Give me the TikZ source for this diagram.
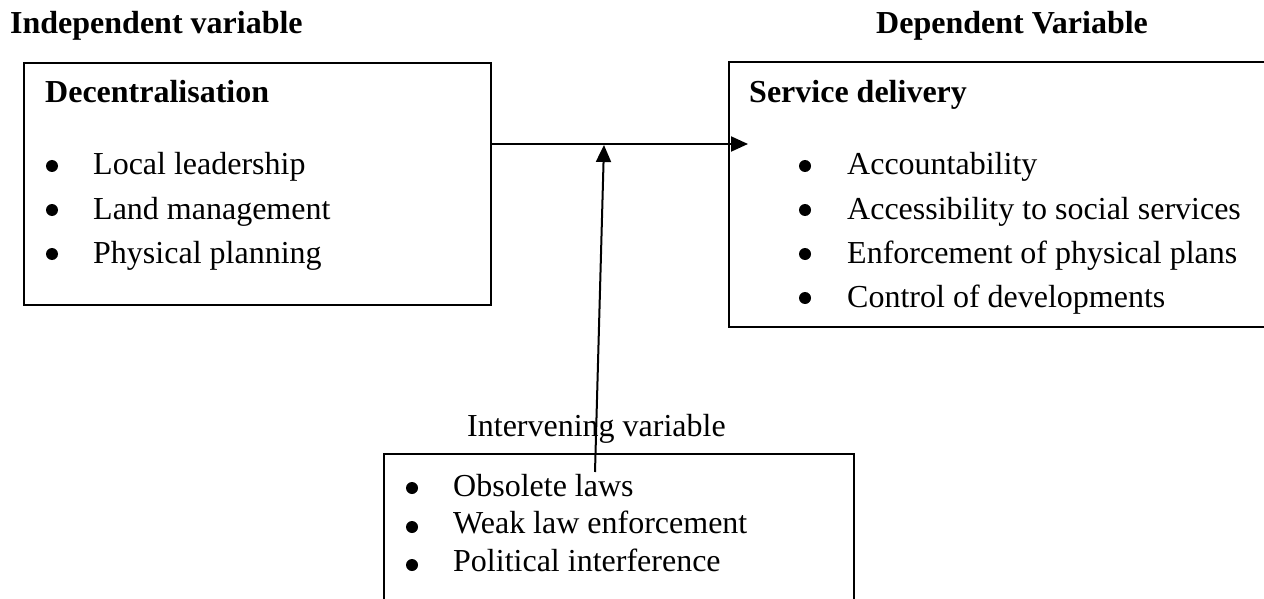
\documentclass[tikz,border=0pt]{standalone}
\usepackage{fontspec}
\setmainfont{Liberation Serif}
\usetikzlibrary{arrows.meta}
\begin{document}
\begin{tikzpicture}[x=1pt,y=-1pt,
  txt/.style={anchor=base west,inner sep=0pt,font=\fontsize{32}{38}\selectfont},
  head/.style={txt,font=\fontsize{32}{38}\selectfont\bfseries},
  box/.style={draw,line width=1.8pt,inner sep=0pt},
  bul/.style={circle,fill=black,inner sep=0pt,minimum size=12pt},
  conn/.style={line width=2pt,-{Triangle[length=17pt,width=15pt]}}]
\useasboundingbox (0,0) rectangle (1264,599);
\clip (0,0) rectangle (1264,599);
% boxes
\node[box,minimum width=467pt,minimum height=242pt] (L) at (257.5,184) {};
\node[box,minimum width=560pt,minimum height=265pt] (R) at (1009,194.5) {};
\node[box,minimum width=470pt,minimum height=200pt] (B) at (619,554) {};
% headings
\node[head] (hi) at (10,33.5) {Independent variable};
\node[head] (hd) at (876,33.5) {Dependent Variable};
\node[txt] (hv) at (467,436) {Intervening variable};
% left box
\node[head] (lt) at (45,103) {Decentralisation};
\node[bul] (lb1) at (52,166) {};
\node[bul] (lb2) at (52,210) {};
\node[bul] (lb3) at (52,254) {};
\node[txt] (l1) at (93,175) {Local leadership};
\node[txt] (l2) at (93,219) {Land management};
\node[txt] (l3) at (93,263) {Physical planning};
% right box
\node[head] (rt) at (749,103) {Service delivery};
\node[bul] (rb1) at (805,166) {};
\node[bul] (rb2) at (805,210) {};
\node[bul] (rb3) at (805,254) {};
\node[bul] (rb4) at (805,298) {};
\node[txt] (r1) at (847,175) {Accountability};
\node[txt] (r2) at (847,219) {Accessibility to social services};
\node[txt] (r3) at (847,263) {Enforcement of physical plans};
\node[txt] (r4) at (847,307) {Control of developments};
% bottom box
\node[bul] (bb1) at (412,488) {};
\node[bul] (bb2) at (412,527) {};
\node[bul] (bb3) at (412,565) {};
\node[txt] (b1) at (453,496) {Obsolete laws};
\node[txt] (b2) at (453,533) {Weak law enforcement};
\node[txt] (b3) at (453,571) {Political interference};
% connectors
\coordinate (hs) at (L.east |- 0,144);
\coordinate (ht) at (748,144);
\coordinate (vs) at (595,472);
\coordinate (vt) at (604,145);
\draw[conn] (hs) -- (ht);
\draw[conn] (vs) -- (vt);
\end{tikzpicture}
\end{document}
